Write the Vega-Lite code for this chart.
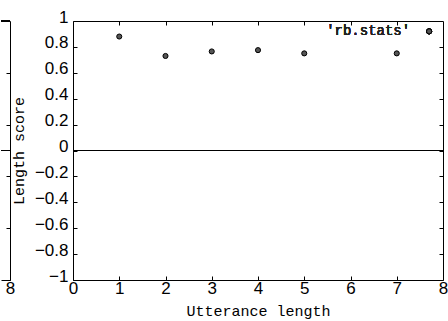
{
  "$schema": "https://vega.github.io/schema/vega-lite/v6.json",
  "background": "white",
  "padding": {"left": 0, "top": 7, "right": 5, "bottom": 0},
  "spacing": -5,
  "config": {
    "view": {"stroke": "black", "strokeWidth": 1},
    "axis": {
      "labelFont": "Liberation Sans",
      "labelFontSize": 17,
      "labelColor": "black",
      "titleFont": "Liberation Mono",
      "titleFontSize": 15,
      "titleFontWeight": "normal",
      "titleColor": "black",
      "tickColor": "black",
      "domainColor": "black",
      "grid": false,
      "tickSize": -4,
      "labelPadding": 9,
      "labelFlush": false
    }
  },
  "datasets": {
    "stats": [
      {"length": 1, "score": 0.88},
      {"length": 2, "score": 0.73},
      {"length": 3, "score": 0.765},
      {"length": 4, "score": 0.775},
      {"length": 5, "score": 0.75},
      {"length": 7, "score": 0.75}
    ]
  },
  "hconcat": [
    {
      "width": 9,
      "height": 259,
      "view": {"stroke": null},
      "data": {"name": "stats"},
      "layer": [
        {
          "mark": {"type": "rule", "color": "black", "strokeWidth": 1},
          "encoding": {
            "y": {"datum": 0, "type": "quantitative", "scale": {"domain": [-1, 1], "nice": false},
              "axis": {"orient": "right", "values": [-1, -0.8, -0.6, -0.4, -0.2, 0, 0.2, 0.4, 0.6, 0.8, 1], "labels": false, "title": null, "domain": true}}
          }
        },
        {
          "mark": {"type": "rule", "color": "black", "strokeWidth": 1},
          "encoding": {"y": {"datum": 1, "type": "quantitative"}}
        },
        {
          "mark": {"type": "point", "opacity": 0},
          "encoding": {
            "x": {"datum": 8, "type": "quantitative", "scale": {"domain": [7.8, 8], "nice": false, "zero": false},
              "axis": {"orient": "bottom", "values": [8], "title": null, "domain": true, "format": "~g", "labelPadding": 4}},
            "y": {"datum": 0, "type": "quantitative"}
          }
        }
      ]
    },
    {
      "width": 370,
      "height": 259,
      "data": {"name": "stats"},
      "resolve": {"axis": {"x": "independent", "y": "independent"}},
      "layer": [
        {
          "mark": {"type": "point", "shape": "circle", "filled": true, "size": 26, "fill": "#555555", "stroke": "black", "strokeWidth": 1, "opacity": 1},
          "encoding": {
            "x": {"field": "length", "type": "quantitative", "scale": {"domain": [0, 8], "nice": false, "zero": false},
              "axis": {"orient": "bottom", "values": [0, 1, 2, 3, 4, 5, 6, 7, 8], "format": "~g", "title": "Utterance length", "domain": false, "labelPadding": 4, "titlePadding": 7}},
            "y": {"field": "score", "type": "quantitative", "scale": {"domain": [-1, 1], "nice": false, "zero": false},
              "axis": {"orient": "left", "values": [-1, -0.8, -0.6, -0.4, -0.2, 0, 0.2, 0.4, 0.6, 0.8, 1], "format": "~g", "title": "Length score", "domain": false, "minExtent": 40, "maxExtent": 40, "titlePadding": 7, "labelOffset": -4}}
          }
        },
        {
          "mark": {"type": "point", "opacity": 0},
          "encoding": {
            "x": {"field": "length", "type": "quantitative",
              "axis": {"orient": "top", "values": [1, 2, 3, 4, 5, 6, 7], "labels": false, "title": null, "domain": false}},
            "y": {"field": "score", "type": "quantitative",
              "axis": {"orient": "right", "values": [-0.8, -0.6, -0.4, -0.2, 0, 0.2, 0.4, 0.6, 0.8], "labels": false, "title": null, "domain": false}}
          }
        },
        {
          "mark": {"type": "rule", "color": "black", "strokeWidth": 1},
          "encoding": {"y": {"datum": 0, "type": "quantitative", "axis": null}}
        },
        {
          "mark": {"type": "text", "text": "'rb.stats'", "font": "Liberation Mono", "fontSize": 14, "fontWeight": 400, "align": "right", "baseline": "middle", "color": "#222222"},
          "encoding": {
            "x": {"datum": 7.29, "type": "quantitative", "axis": null},
            "y": {"datum": 0.92, "type": "quantitative", "axis": null}
          }
        },
        {
          "mark": {"type": "point", "shape": "circle", "filled": true, "size": 26, "fill": "#555555", "stroke": "black", "strokeWidth": 1, "opacity": 1},
          "encoding": {
            "x": {"datum": 7.7, "type": "quantitative", "axis": null},
            "y": {"datum": 0.92, "type": "quantitative", "axis": null}
          }
        }
      ]
    }
  ]
}
